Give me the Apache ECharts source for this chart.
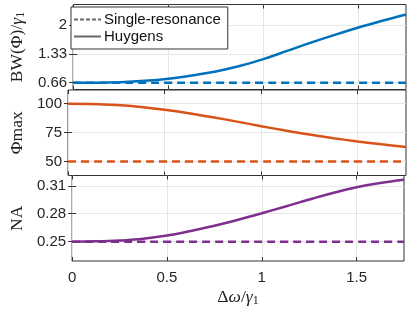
<!DOCTYPE html>
<html><head><meta charset="utf-8">
<script src="https://cdn.jsdelivr.net/npm/echarts@6/dist/echarts.min.js"></script>
<style>html,body{margin:0;padding:0;background:#fff}#c{width:407px;height:309px}</style>
</head><body><div id="c"></div>
<script>
// ---- data ----
const xValues      = [0, 0.125, 0.25, 0.375, 0.5, 0.625, 0.75, 0.875, 1, 1.125, 1.25, 1.375, 1.5, 1.625, 1.75];
const bwHuygens    = [0.667, 0.668, 0.68, 0.71, 0.76, 0.835, 0.925, 1.05, 1.21, 1.40, 1.59, 1.77, 1.94, 2.095, 2.24];
const bwSingle     = [0.667, 0.667, 0.667, 0.667, 0.667, 0.667, 0.667, 0.667, 0.667, 0.667, 0.667, 0.667, 0.667, 0.667, 0.667];
const phiHuygens   = [100, 99.7, 98.8, 97.2, 94.8, 91.8, 88.3, 84.5, 80.6, 76.8, 73.3, 70.2, 67.4, 64.9, 62.7];
const phiSingle    = [50, 50, 50, 50, 50, 50, 50, 50, 50, 50, 50, 50, 50, 50, 50];
const naHuygens    = [0.25, 0.2503, 0.2512, 0.253, 0.2565, 0.2615, 0.267, 0.2735, 0.2805, 0.2878, 0.2953, 0.3023, 0.3085, 0.313, 0.3165];
const naSingle     = [0.25, 0.25, 0.25, 0.25, 0.25, 0.25, 0.25, 0.25, 0.25, 0.25, 0.25, 0.25, 0.25, 0.25, 0.25];
const xTickValues  = [0, 0.5, 1, 1.5];
const xTickLabels  = ['0', '0.5', '1', '1.5'];
const bwTickValues = [0.6667, 1.3333, 2];
const bwTickLabels = ['0.66', '1.33', '2'];
const phiTickValues = [50, 75, 100];
const phiTickLabels = ['50', '75', '100'];
const naTickValues = [0.25, 0.28, 0.31];
const naTickLabels = ['0.25', '0.28', '0.31'];
const legendNames  = ['Single-resonance', 'Huygens'];

// ---- styling ----
const frame = '#333333';
const gridC = '#e6e6e6';
const serif = 'Liberation Serif';
const sans = 'Liberation Sans';
const richName = {
  r: {fontFamily: serif, fontSize: 17.5, color: '#222'},
  i: {fontFamily: serif, fontSize: 17.5, fontStyle: 'italic', color: '#222'},
  s: {fontFamily: serif, fontSize: 12, color: '#222', padding: [8, 0, 0, 0]}
};
const panels = [
  {top: 4.5, height: 85, min: 0.51, max: 2.47, tv: bwTickValues, tl: bwTickLabels, name: '{r|BW(Φ)/}{i|γ}{s|1}', color: '#0072BD', h: bwHuygens, s: bwSingle},
  {top: 90, height: 85.5, min: 38, max: 111.8, tv: phiTickValues, tl: phiTickLabels, name: '{r|Φmax}', color: '#D95319', h: phiHuygens, s: phiSingle},
  {top: 175.5, height: 85.5, min: 0.2292, max: 0.3211, tv: naTickValues, tl: naTickLabels, name: '{r|NA}', color: '#7E2F8E', h: naHuygens, s: naSingle}
];
const xMin = -0.0001, xMax = 1.75;

const grid = [], xAxis = [], yAxis = [], series = [];
panels.forEach((p, i) => {
  grid.push({left: 66, width: 340, top: p.top, height: p.height, show: true, borderColor: frame, borderWidth: 1, backgroundColor: 'transparent'});
  const fmt = (v) => { const k = xTickValues.findIndex(t => Math.abs(t - v) < 1e-6); return k >= 0 ? xTickLabels[k] : ''; };
  xAxis.push({
    type: 'value', gridIndex: i, min: xMin, max: xMax, position: 'bottom',
    axisLine: {show: false},
    axisTick: {show: true, inside: true, length: 4, lineStyle: {color: frame}, customValues: xTickValues},
    axisLabel: {show: i === 2, customValues: [xMin].concat(xTickValues, [xMax]), formatter: fmt, fontFamily: sans, fontSize: 15, color: '#262626', margin: 9, align: 'center', hideOverlap: false},
    splitLine: {show: true, lineStyle: {color: gridC, width: 1}, customValues: xTickValues},
    name: i === 2 ? '{r|Δ}{i|ω}{r|/}{i|γ}{s|1}' : '',
    nameLocation: 'middle', nameGap: 26,
    nameTextStyle: {rich: richName}
  });
  xAxis.push({
    type: 'value', gridIndex: i, min: xMin, max: xMax, position: 'top',
    axisLine: {show: false},
    axisTick: {show: true, inside: true, length: 4, lineStyle: {color: frame}, customValues: xTickValues},
    axisLabel: {show: false}, splitLine: {show: false}
  });
  const yfmt = (v) => { const k = p.tv.findIndex(t => Math.abs(t - v) < 1e-6); return k >= 0 ? p.tl[k] : ''; };
  yAxis.push({
    type: 'value', gridIndex: i, min: p.min, max: p.max, position: 'left',
    axisLine: {show: false},
    axisTick: {show: true, inside: true, length: 4, lineStyle: {color: frame}, customValues: p.tv},
    axisLabel: {show: true, customValues: p.tv, formatter: yfmt, fontFamily: sans, fontSize: 15, color: '#262626', margin: 6},
    splitLine: {show: true, lineStyle: {color: gridC, width: 1}, customValues: p.tv},
    name: p.name, nameLocation: 'middle', nameGap: 42, nameRotate: 90,
    nameTextStyle: {rich: richName}
  });
  yAxis.push({
    type: 'value', gridIndex: i, min: p.min, max: p.max, position: 'right',
    axisLine: {show: false},
    axisTick: {show: true, inside: true, length: 4, lineStyle: {color: frame}, customValues: p.tv},
    axisLabel: {show: false}, splitLine: {show: false}
  });
  series.push({
    type: 'line', xAxisIndex: 2 * i, yAxisIndex: 2 * i, symbol: 'none', smooth: 0.4, silent: true,
    data: xValues.map((x, k) => [x, p.s[k]]),
    lineStyle: {color: p.color, width: 2.5, type: [8, 5]}, z: 3
  });
  series.push({
    type: 'line', xAxisIndex: 2 * i, yAxisIndex: 2 * i, symbol: 'none', smooth: 0.4, silent: true,
    data: xValues.map((x, k) => [x, p.h[k]]),
    lineStyle: {color: p.color, width: 2.5}, z: 4
  });
});
// legend-only series
series.push({name: legendNames[0], type: 'line', xAxisIndex: 0, yAxisIndex: 0, symbol: 'none', data: [], itemStyle: {color: '#666'}, lineStyle: {color: '#666', width: 2.5, type: [4, 2]}});
series.push({name: legendNames[1], type: 'line', xAxisIndex: 0, yAxisIndex: 0, symbol: 'none', data: [], itemStyle: {color: '#666'}, lineStyle: {color: '#666', width: 2.5}});

const chart = echarts.init(document.getElementById('c'), null, {renderer: 'canvas'});
chart.setOption({
  animation: false,
  backgroundColor: '#fff',
  grid, xAxis, yAxis, series,
  legend: {
    data: legendNames, left: 71, top: 7, orient: 'vertical',
    padding: [5, 7, 5, 2], itemGap: 2, itemWidth: 27, itemHeight: 14,
    backgroundColor: '#fff', borderColor: frame, borderWidth: 1,
    itemStyle: {opacity: 0},
    textStyle: {fontFamily: sans, fontSize: 15, color: '#111', padding: [0, 0, 0, -2]},
    selectedMode: false
  }
});
</script></body></html>
